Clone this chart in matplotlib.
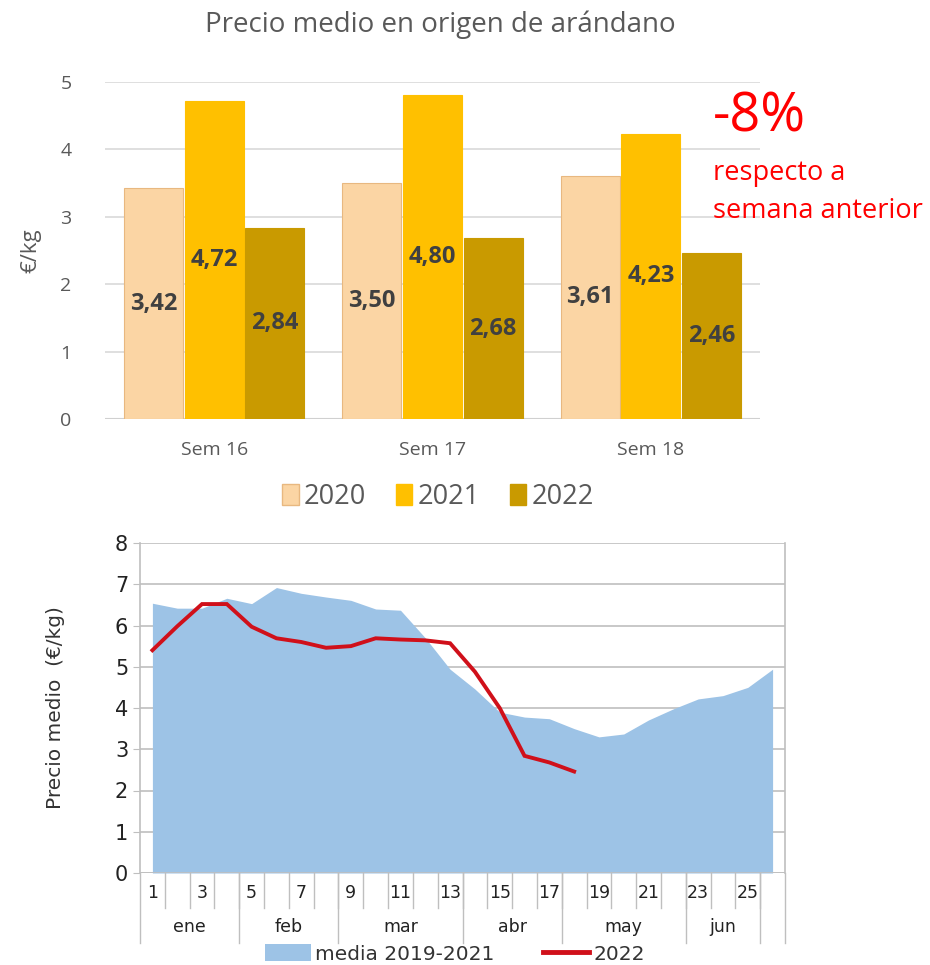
import matplotlib
matplotlib.use("Agg")
import matplotlib.pyplot as plt
import matplotlib.transforms as mtransforms
from matplotlib.patches import Patch
from matplotlib.lines import Line2D
import numpy as np

# top chart data
weeks_top = ["Sem 16", "Sem 17", "Sem 18"]
years_top = ["2020", "2021", "2022"]
price_2020 = [3.42, 3.50, 3.61]
price_2021 = [4.72, 4.80, 4.23]
price_2022 = [2.84, 2.68, 2.46]
bar_colors = ["#FBD5A4", "#FFC000", "#C99A00"]

# bottom chart data
week_nums = list(range(1, 27))
media_2019_2021 = [6.54, 6.42, 6.42, 6.66, 6.53, 6.92, 6.78, 6.69, 6.61, 6.40,
                   6.37, 5.70, 4.94, 4.46, 3.90, 3.78, 3.74, 3.50, 3.30, 3.37,
                   3.71, 3.98, 4.22, 4.30, 4.50, 4.94]
line_2022 = [5.40, 5.98, 6.52, 6.52, 5.97, 5.69, 5.60, 5.46, 5.50, 5.69,
             5.66, 5.64, 5.57, 4.88, 4.00, 2.84, 2.68, 2.46]
months = ["ene", "feb", "mar", "abr", "may", "jun", ""]
month_edges = [0.5, 4.5, 8.5, 13.5, 17.5, 22.5, 25.5, 26.5]

GRAY = "#595959"

fig = plt.figure(figsize=(9.3, 9.65), dpi=100)

# ---------- top bar chart ----------
ax1 = fig.add_axes([105 / 930, 1 - 419 / 965, 655 / 930, 337 / 965])
x = np.arange(len(weeks_top))
off = 0.278
w = 0.27
series = [price_2020, price_2021, price_2022]
for i, vals in enumerate(series):
    edge = "#E8B880" if i == 0 else bar_colors[i]
    bars = ax1.bar(x + (i - 1) * off, vals, w, color=bar_colors[i],
                   edgecolor=edge, linewidth=0.8, zorder=3)
    for b, v in zip(bars, vals):
        ax1.text(b.get_x() + b.get_width() / 2, v / 2, f"{v:.2f}".replace(".", ","),
                 ha="center", va="center", fontsize=17, fontweight="bold",
                 color="#404040", family="Open Sans", zorder=4)

ax1.set_xlim(-0.5, 2.5)
ax1.set_ylim(0, 5)
ax1.set_yticks(range(6))
ax1.set_xticks(x)
ax1.set_xticklabels(weeks_top)
ax1.grid(axis="y", color="#D9D9D9", linewidth=1.2, zorder=0)
ax1.tick_params(length=0, labelsize=14, colors=GRAY, pad=16)
ax1.tick_params(axis="y", pad=24)
for s in ax1.spines.values():
    s.set_visible(False)
ax1.axhline(0, color="#D0D0D0", linewidth=1.5, zorder=2)
for lab in ax1.get_xticklabels() + ax1.get_yticklabels():
    lab.set_family("Open Sans")
ax1.set_ylabel("€/kg", fontsize=16, color=GRAY, family="Open Sans", labelpad=14)

fig.text(440 / 930, 1 - 25 / 965, "Precio medio en origen de arándano",
         ha="center", va="center", fontsize=20, color=GRAY, family="Open Sans")

fig.legend([Patch(facecolor=c, edgecolor=("#E8B880" if j == 0 else c)) for j, c in enumerate(bar_colors)],
           years_top, loc="center", bbox_to_anchor=(438 / 930, 1 - 497 / 965),
           ncol=3, frameon=False, handlelength=0.6, handleheight=0.8,
           handletextpad=0.2, columnspacing=1.1, labelcolor=GRAY,
           prop={"family": "Open Sans", "size": 19.5})

fig.text(713 / 930, 1 - 117 / 965, "-8%", ha="left", va="center",
         fontsize=39, color="#FF0000", family="Open Sans")
fig.text(713 / 930, 1 - 173 / 965, "respecto a", ha="left", va="center",
         fontsize=19.5, color="#FF0000", family="Open Sans")
fig.text(713 / 930, 1 - 211 / 965, "semana anterior", ha="left", va="center",
         fontsize=19.5, color="#FF0000", family="Open Sans")

# ---------- bottom area/line chart ----------
ax2 = fig.add_axes([140 / 930, 1 - 873 / 965, 645 / 930, 330 / 965])
ax2.fill_between(week_nums, media_2019_2021, 0, color="#9DC3E6", linewidth=0, zorder=2)
ax2.plot(week_nums[:len(line_2022)], line_2022, color="#D0101A", linewidth=2.8,
         solid_joinstyle="miter", zorder=3)
ax2.set_xlim(0.5, 26.5)
ax2.set_ylim(0, 8)
ax2.set_yticks(range(9))
ax2.set_xticks([])
ax2.grid(axis="y", color="#BFBFBF", linewidth=1.2, zorder=1)
ax2.tick_params(axis="y", length=5, color="#BFBFBF", labelsize=15, labelcolor="#222222")
for s in ["top", "bottom"]:
    ax2.spines[s].set_visible(False)
for s in ["left", "right"]:
    ax2.spines[s].set_color("#BFBFBF")
    ax2.spines[s].set_linewidth(1.2)
ax2.axhline(0, color="#BFBFBF", linewidth=1.2, zorder=4)
ax2.set_ylabel("Precio medio  (€/kg)", fontsize=14.5, color="#333333", labelpad=36)

trans = mtransforms.blended_transform_factory(ax2.transData, ax2.transAxes)
for wk in week_nums:
    if wk % 2 == 1:
        ax2.text(wk, -0.062, str(wk), transform=trans, ha="center", va="center",
                 fontsize=12.5, color="#222222")
for b in np.arange(1.5, 26.5, 1.0):
    ax2.plot([b, b], [0, -0.106], transform=trans, color="#BFBFBF",
             linewidth=1, clip_on=False)
for e in month_edges:
    ax2.plot([e, e], [0, -0.212], transform=trans, color="#BFBFBF",
             linewidth=1, clip_on=False)
for m, a, b in zip(months, month_edges[:-1], month_edges[1:]):
    ax2.text((a + b) / 2, -0.164, m, transform=trans, ha="center", va="center",
             fontsize=12.5, color="#222222")

fig.legend([Patch(facecolor="#9DC3E6"), Line2D([], [], color="#D0101A", linewidth=3.5)],
           ["media 2019-2021", "2022"], loc="center",
           bbox_to_anchor=(455 / 930, 11 / 965), ncol=2, frameon=False,
           handlelength=2.3, handleheight=0.9, handletextpad=0.2, columnspacing=2.4,
           labelcolor="#333333", prop={"size": 14.5})

fig.savefig("out.png", dpi=100)
